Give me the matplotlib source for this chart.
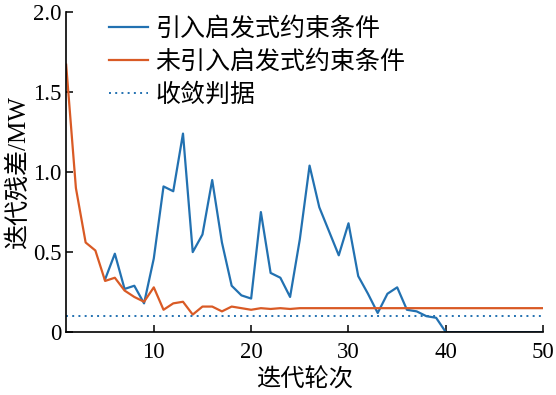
import matplotlib
matplotlib.use("Agg")
import matplotlib.pyplot as plt

plt.rcParams['font.family'] = ['Liberation Serif', 'Noto Sans CJK SC']
plt.rcParams['axes.unicode_minus'] = False

# 迭代轮次
rounds_off = list(range(1, 51))
rounds_on = list(range(5, 51))

# 未引入启发式约束条件
resid_off = [1.67, 0.90, 0.56, 0.51, 0.32, 0.34, 0.26, 0.22, 0.19, 0.28,
             0.14, 0.18, 0.19, 0.11, 0.16, 0.16, 0.13, 0.16, 0.15, 0.14,
             0.15, 0.145, 0.15, 0.145, 0.15, 0.15, 0.15, 0.15, 0.15, 0.15,
             0.15, 0.15, 0.15, 0.15, 0.15, 0.15, 0.15, 0.15, 0.15, 0.15,
             0.15, 0.15, 0.15, 0.15, 0.15, 0.15, 0.15, 0.15, 0.15, 0.15]

# 引入启发式约束条件 (from round 5)
resid_on = [0.33, 0.49, 0.27, 0.29, 0.18, 0.46, 0.91, 0.88, 1.24, 0.50,
            0.61, 0.95, 0.56, 0.29, 0.23, 0.21, 0.75, 0.37, 0.34, 0.22,
            0.58, 1.04, 0.78, 0.63, 0.48, 0.68, 0.35, 0.24, 0.12, 0.24,
            0.28, 0.14, 0.13, 0.10, 0.09, 0.0, 0.0, 0.0, 0.0, 0.0,
            0.0, 0.0, 0.0, 0.0, 0.0, 0.0]

threshold = 0.1

yticks = [0, 0.5, 1.0, 1.5, 2.0]
ytick_labels = ["0", "0.5", "1.0", "1.5", "2.0"]
xticks = [10, 20, 30, 40, 50]

blue = '#2271b1'
orange = '#d95a25'

fig = plt.figure(figsize=(5.56, 3.95), dpi=100)
ax = fig.add_axes([0.119, 0.159, 0.858, 0.811])

ax.plot(rounds_on, resid_on, color=blue, lw=1.6, label='引入启发式约束条件')
ax.plot(rounds_off, resid_off, color=orange, lw=1.6, label='未引入启发式约束条件')
ax.axhline(threshold, color=blue, lw=1.4, ls=(0, (1, 2.2)), label='收敛判据')

ax.set_xlim(1, 50)
ax.set_ylim(0, 2.0)
ax.set_xticks(xticks)
ax.set_yticks(yticks)
ax.set_yticklabels(ytick_labels)
ax.tick_params(direction='in', length=5, width=1.1, labelsize=16.5)
ax.tick_params(axis='x', pad=7)

for s in ['top', 'right']:
    ax.spines[s].set_visible(False)
for s in ['left', 'bottom']:
    ax.spines[s].set_linewidth(1.2)

ax.set_xlabel('迭代轮次', fontsize=17.5, labelpad=4)
ax.set_ylabel('迭代残差/MW', fontsize=18, labelpad=2)

ax.legend(loc='upper left', bbox_to_anchor=(0.043, 1.055), frameon=False,
          fontsize=18, handlelength=1.55, handletextpad=0.3, labelspacing=0.38)

fig.savefig('out.png', dpi=100)
